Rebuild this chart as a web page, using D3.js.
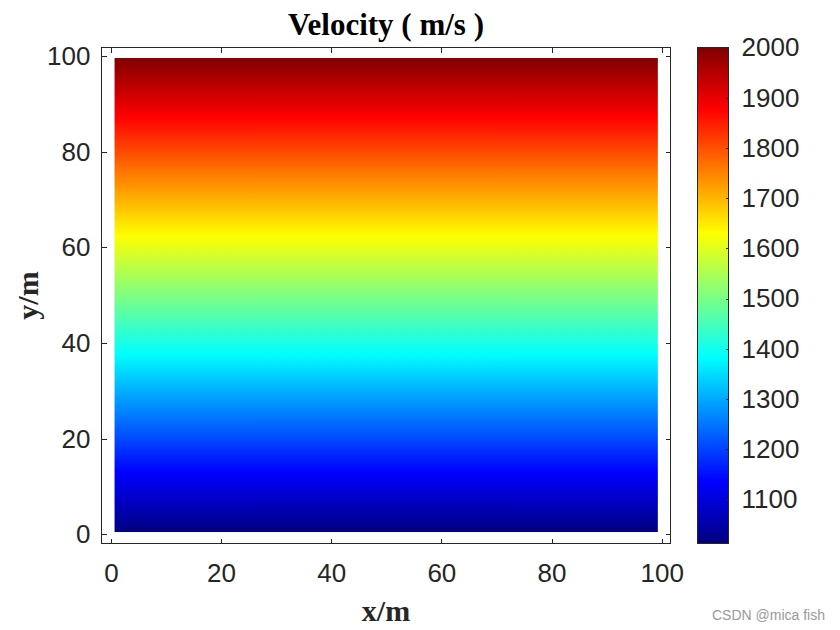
<!DOCTYPE html>
<html>
<head>
<meta charset="utf-8">
<script src="https://cdn.jsdelivr.net/npm/d3@7"></script>
<style>
  body { margin: 0; background: #fff; }
  svg { display: block; }
</style>
</head>
<body>
<div id="chart"></div>
<script>
// velocity field: linear increase with depth coordinate y
const fieldX = [0.67, 99.3]          // image extent in x (m)
const fieldY = [0.5, 99.6]           // image extent in y (m)
const fieldV = [1012, 2000]          // velocity (m/s) at bottom and top rows
const xTicks = [0, 20, 40, 60, 80, 100]
const yTicks = [0, 20, 40, 60, 80, 100]
const cbTicks = [1100, 1200, 1300, 1400, 1500, 1600, 1700, 1800, 1900, 2000]

// MATLAB jet colormap stops
const jetPos = [0, 0.125, 0.375, 0.625, 0.875, 1]
const jetCol = ['#000080', '#0000ff', '#00ffff', '#ffff00', '#ff0000', '#800000']

const width = 840
const height = 630
const axisColor = '#262626'
const tickFont = 'Liberation Sans, Arial, sans-serif'
const serif = 'Liberation Serif, Times New Roman, serif'

const plot = { left: 101.5, right: 670.5, top: 47.5, bottom: 543.5 }
const cb = { left: 697.5, right: 728.5, top: 47.5, bottom: 543.5 }

const svg = d3.select('#chart')
    .append('svg')
    .attr('width', width)
    .attr('height', height)

const x = d3.scaleLinear().domain([-1.7, 101.6]).range([plot.left, plot.right])
const y = d3.scaleLinear().domain([-1.9, 101.8]).range([plot.bottom, plot.top])

const jet = d3.scaleLinear().domain(jetPos).range(jetCol).clamp(true)
const vNorm = d3.scaleLinear().domain(fieldV).range([0, 1])
const color = v => jet(vNorm(v))

const defs = svg.append('defs')

// gradient stops sampled through the colour scale
const gradStops = d3.range(0, 1.0001, 1 / 64)
const addGradient = id => {
    const grad = defs.append('linearGradient')
        .attr('id', id)
        .attr('x1', 0).attr('y1', 1)
        .attr('x2', 0).attr('y2', 0)
    grad.selectAll('stop')
        .data(gradStops)
        .enter()
        .append('stop')
            .attr('offset', d => d)
            .attr('stop-color', d => color(fieldV[0] + d * (fieldV[1] - fieldV[0])))
}
addGradient('field')
addGradient('cbar')

// field image
svg.append('rect')
    .attr('x', x(fieldX[0]))
    .attr('y', y(fieldY[1]))
    .attr('width', x(fieldX[1]) - x(fieldX[0]))
    .attr('height', y(fieldY[0]) - y(fieldY[1]))
    .attr('fill', 'url(#field)')

const tickLen = 5

const styleAxis = g => {
    g.select('.domain').remove()
    g.selectAll('.tick line').attr('stroke', axisColor).attr('shape-rendering', 'crispEdges')
    g.selectAll('.tick text')
        .attr('fill', axisColor)
        .style('font-family', tickFont)
        .style('font-size', '26px')
}

// bottom
svg.append('g')
    .attr('transform', `translate(0, ${plot.bottom})`)
    .call(d3.axisBottom(x).tickValues(xTicks).tickSize(-tickLen).tickPadding(20))
    .call(styleAxis)
// top (ticks only)
svg.append('g')
    .attr('transform', `translate(0, ${plot.top})`)
    .call(d3.axisTop(x).tickValues(xTicks).tickSize(-tickLen).tickFormat(''))
    .call(styleAxis)
// left
svg.append('g')
    .attr('transform', `translate(${plot.left}, 0)`)
    .call(d3.axisLeft(y).tickValues(yTicks).tickSize(-tickLen).tickPadding(11))
    .call(styleAxis)
// right (ticks only)
svg.append('g')
    .attr('transform', `translate(${plot.right}, 0)`)
    .call(d3.axisRight(y).tickValues(yTicks).tickSize(-tickLen).tickFormat(''))
    .call(styleAxis)

svg.append('rect')
    .attr('x', plot.left)
    .attr('y', plot.top)
    .attr('width', plot.right - plot.left)
    .attr('height', plot.bottom - plot.top)
    .attr('fill', 'none')
    .attr('stroke', axisColor)
    .attr('stroke-width', 1)

// colorbar
const cy = d3.scaleLinear().domain(fieldV).range([cb.bottom, cb.top])

svg.append('rect')
    .attr('x', cb.left)
    .attr('y', cb.top)
    .attr('width', cb.right - cb.left)
    .attr('height', cb.bottom - cb.top)
    .attr('fill', 'url(#cbar)')

svg.append('g')
    .attr('transform', `translate(${cb.right}, 0)`)
    .call(d3.axisRight(cy).tickValues(cbTicks).tickSize(-3).tickPadding(13).tickFormat(d3.format('d')))
    .call(styleAxis)

svg.append('rect')
    .attr('x', cb.left)
    .attr('y', cb.top)
    .attr('width', cb.right - cb.left)
    .attr('height', cb.bottom - cb.top)
    .attr('fill', 'none')
    .attr('stroke', axisColor)
    .attr('stroke-width', 1)

// labels
svg.append('text')
    .attr('x', (plot.left + plot.right) / 2)
    .attr('y', 35)
    .attr('text-anchor', 'middle')
    .style('font-family', serif)
    .style('font-weight', 'bold')
    .style('font-size', '31px')
    .attr('fill', '#000')
    .text('Velocity ( m/s )')

svg.append('text')
    .attr('x', (plot.left + plot.right) / 2)
    .attr('y', 621)
    .attr('text-anchor', 'middle')
    .style('font-family', serif)
    .style('font-weight', 'bold')
    .style('font-size', '30px')
    .attr('fill', '#262626')
    .text('x/m')

svg.append('text')
    .attr('transform', `translate(38, ${(plot.top + plot.bottom) / 2}) rotate(-90)`)
    .attr('text-anchor', 'middle')
    .style('font-family', serif)
    .style('font-weight', 'bold')
    .style('font-size', '30px')
    .attr('fill', '#262626')
    .text('y/m')

svg.append('text')
    .attr('x', 825)
    .attr('y', 620)
    .attr('text-anchor', 'end')
    .style('font-family', tickFont)
    .style('font-size', '14px')
    .attr('fill', '#999')
    .text('CSDN @mica fish')
</script>
</body>
</html>
